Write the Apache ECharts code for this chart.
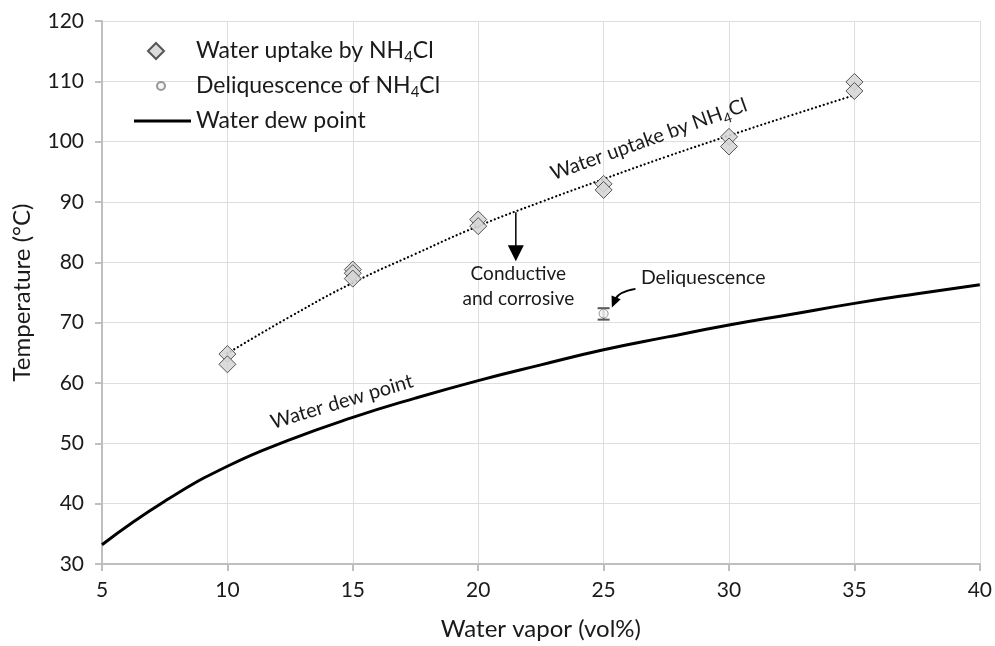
<!DOCTYPE html>
<html>
<head>
<meta charset="utf-8">
<script src="https://cdn.jsdelivr.net/npm/echarts@6/dist/echarts.min.js"></script>
<style>
  html, body { margin: 0; padding: 0; background: #fff; }
  #chart { width: 995px; height: 646px; }
</style>
</head>
<body>
<div id="chart"></div>
<script>
// Water uptake measurements on NH4Cl (vol% water vapor, temperature in °C)
const uptakeVapor = [10, 10, 15, 15, 15, 20, 20, 25, 25, 30, 30, 35, 35];
const uptakeTemp  = [64.8, 63.1, 78.8, 78.2, 77.3, 87.1, 86.0, 93.0, 92.0, 100.8, 99.2, 109.9, 108.4];

// Trend curve through the water uptake points
const trendVapor = [10, 12.5, 15, 17.5, 20, 22.5, 25, 27.5, 30, 32.5, 35];
const trendTemp  = [64.9, 71.0, 76.6, 81.4, 86.0, 90.0, 93.8, 97.5, 101.0, 104.4, 107.7];

// Water dew point curve
const dewVapor = [5, 7.5, 10, 12.5, 15, 17.5, 20, 22.5, 25, 27.5, 30, 32.5, 35, 37.5, 40];
const dewTemp  = [33.2, 40.4, 46.2, 50.6, 54.3, 57.5, 60.4, 63.0, 65.5, 67.6, 69.6, 71.4, 73.2, 74.8, 76.3];

// Deliquescence of NH4Cl with its range
const deliqVapor = [25];
const deliqTemp  = [71.5];
const deliqLow   = [70.5];
const deliqHigh  = [72.4];

const FONT = 'Lato, "Open Sans", sans-serif';
const AXIS_GREY = '#bfbfbf';
const TEXT = '#1a1a1a';

const chart = echarts.init(document.getElementById('chart'), null, { renderer: 'canvas' });

// Subscript: placed at the top of a 26px line, pushed down by padding
const subRich = {
  sub: { fontSize: 15, fontFamily: FONT, color: TEXT, verticalAlign: 'top', lineHeight: 14, padding: [12, 0, 0, 0] }
};

// Legend icons are drawn in a 57x17 box; the leading moves fix the box so shapes keep their size
const ICON_DIAMOND = 'path://M0,0 M57,17 M22,0.5 L30,8.5 L22,16.5 L14,8.5 Z';
const ICON_CIRCLE  = 'path://M0,0 M57,17 M23,8.5 A4,4 0 1 1 31,8.5 A4,4 0 1 1 23,8.5 Z';
const ICON_LINE    = 'path://M0,0 M57,17 M0,7 L57,7 L57,10 L0,10 Z';

const option = {
  animation: false,
  backgroundColor: '#fff',
  grid: { left: 102, right: 14, top: 21, bottom: 79, containLabel: false },
  xAxis: {
    type: 'value', min: 5, max: 40, interval: 5,
    name: 'Water vapor (vol%)', nameLocation: 'middle', nameGap: 53,
    nameTextStyle: { fontFamily: FONT, fontSize: 24, color: TEXT },
    axisLine: { show: true, lineStyle: { color: AXIS_GREY, width: 2 } },
    axisTick: { show: true, length: 7, lineStyle: { color: AXIS_GREY, width: 2 } },
    axisLabel: { fontFamily: FONT, fontSize: 21, color: TEXT, margin: 16 },
    splitLine: { show: true, lineStyle: { color: '#dedede', width: 1 } }
  },
  yAxis: {
    type: 'value', min: 30, max: 120, interval: 10,
    name: 'Temperature (°C)', nameLocation: 'middle', nameGap: 68, nameRotate: 90,
    nameTextStyle: { fontFamily: FONT, fontSize: 24, color: TEXT },
    axisLine: { show: true, lineStyle: { color: AXIS_GREY, width: 2 } },
    axisTick: { show: true, length: 7, lineStyle: { color: AXIS_GREY, width: 2 } },
    axisLabel: { fontFamily: FONT, fontSize: 21, color: TEXT, margin: 18 },
    splitLine: { show: true, lineStyle: { color: '#dedede', width: 1 } }
  },
  legend: {
    orient: 'vertical', left: 133, top: 38, padding: 0,
    itemWidth: 57, itemHeight: 17, itemGap: 8,
    selectedMode: false,
    textStyle: { fontFamily: FONT, fontSize: 23, color: TEXT, lineHeight: 26, rich: subRich },
    formatter: name => name.replace('NH4Cl', 'NH{sub|4}Cl'),
    data: [
      { name: 'Water uptake by NH4Cl', icon: ICON_DIAMOND },
      { name: 'Deliquescence of NH4Cl', icon: ICON_CIRCLE },
      { name: 'Water dew point', icon: ICON_LINE, itemStyle: { color: '#000', borderWidth: 0 } }
    ]
  },
  series: [
    {
      name: 'Water dew point', type: 'line', smooth: true, symbol: 'none',
      data: dewVapor.map((x, i) => [x, dewTemp[i]]),
      lineStyle: { color: '#000', width: 3 }, itemStyle: { color: '#000' }, z: 3
    },
    {
      name: 'Uptake trend', type: 'line', smooth: true, symbol: 'none',
      data: trendVapor.map((x, i) => [x, trendTemp[i]]),
      lineStyle: { color: '#000', width: 2.2, type: [0.1, 4], cap: 'round' }, z: 4
    },
    {
      name: 'Water uptake by NH4Cl', type: 'scatter', symbol: 'diamond', symbolSize: 17,
      data: uptakeVapor.map((x, i) => [x, uptakeTemp[i]]),
      itemStyle: { color: '#d6d6d6', borderColor: '#404040', borderWidth: 1, opacity: 0.88 }, z: 5
    },
    {
      name: 'Deliquescence range', type: 'custom',
      data: deliqVapor.map((x, i) => [x, deliqLow[i], deliqHigh[i]]),
      renderItem: (params, api) => {
        const lo = api.coord([api.value(0), api.value(1)]);
        const hi = api.coord([api.value(0), api.value(2)]);
        const half = 6;
        const st = { stroke: '#595959', lineWidth: 2 };
        return {
          type: 'group',
          children: [
            { type: 'line', shape: { x1: lo[0], y1: lo[1], x2: hi[0], y2: hi[1] }, style: st },
            { type: 'line', shape: { x1: lo[0] - half, y1: lo[1], x2: lo[0] + half, y2: lo[1] }, style: st },
            { type: 'line', shape: { x1: hi[0] - half, y1: hi[1], x2: hi[0] + half, y2: hi[1] }, style: st }
          ]
        };
      },
      z: 5
    },
    {
      name: 'Deliquescence of NH4Cl', type: 'scatter', symbol: 'circle', symbolSize: 9,
      data: deliqVapor.map((x, i) => [x, deliqTemp[i]]),
      itemStyle: { color: '#f2f2f2', borderColor: '#7f7f7f', borderWidth: 1 }, z: 6
    }
  ]
};

chart.setOption(option);

// Annotations anchored to data coordinates
const px = (x, y) => chart.convertToPixel({ gridIndex: 0 }, [x, y]);
const deg = d => d * Math.PI / 180;
const annFont = (size) => size + 'px ' + FONT;

const arrowTop = px(21.5, 88.3);
const arrowTip = px(21.5, 80.2);
const headLen = 16, headHalf = 8;

const curveStart = px(26.27, 75.6);
const curveEnd = px(25.33, 72.5);
const ctrl = [curveStart[0] - 17, curveStart[1] + 3];
const dx = curveEnd[0] - ctrl[0], dy = curveEnd[1] - ctrl[1];
const len = Math.hypot(dx, dy), ux = dx / len, uy = dy / len;
const cHead = 11, cHalf = 5;
const base = [curveEnd[0] - ux * cHead, curveEnd[1] - uy * cHead];

const uptakeLabel = px(26.8, 100.4);
const dewLabel = px(14.56, 56.9);
const condLabel = px(21.6, 78.1);
const corrLabel = px(21.6, 74.0);
const deliqLabel = px(28.97, 77.5);

chart.setOption({
  graphic: [
    { type: 'line', shape: { x1: arrowTop[0], y1: arrowTop[1], x2: arrowTip[0], y2: arrowTip[1] - headLen + 2 },
      style: { stroke: '#000', lineWidth: 1.5 }, z: 10 },
    { type: 'polygon', shape: { points: [
        [arrowTip[0] - headHalf, arrowTip[1] - headLen],
        [arrowTip[0] + headHalf, arrowTip[1] - headLen],
        [arrowTip[0], arrowTip[1]] ] },
      style: { fill: '#000' }, z: 10 },
    { type: 'bezierCurve', shape: { x1: curveStart[0], y1: curveStart[1], cpx1: ctrl[0], cpy1: ctrl[1],
        x2: base[0] + ux * 2, y2: base[1] + uy * 2 },
      style: { stroke: '#000', lineWidth: 2, fill: null }, z: 10 },
    { type: 'polygon', shape: { points: [
        [base[0] - uy * cHalf, base[1] + ux * cHalf],
        [base[0] + uy * cHalf, base[1] - ux * cHalf],
        curveEnd ] },
      style: { fill: '#000' }, z: 10 },
    { type: 'text', x: uptakeLabel[0], y: uptakeLabel[1], rotation: deg(19.7),
      style: { text: 'Water uptake by NH{sub|4}Cl', font: annFont(20), fill: TEXT,
        align: 'center', verticalAlign: 'middle', lineHeight: 24,
        rich: { sub: { fontSize: 14, fontFamily: FONT, fill: TEXT, verticalAlign: 'top', lineHeight: 12, padding: [12, 0, 0, 0] } } },
      z: 10 },
    { type: 'text', x: dewLabel[0], y: dewLabel[1], rotation: deg(16.6),
      style: { text: 'Water dew point', font: annFont(20), fill: TEXT, align: 'center', verticalAlign: 'middle' }, z: 10 },
    { type: 'text', x: condLabel[0], y: condLabel[1],
      style: { text: 'Conductive', font: annFont(19), fill: TEXT, align: 'center', verticalAlign: 'middle' }, z: 10 },
    { type: 'text', x: corrLabel[0], y: corrLabel[1],
      style: { text: 'and corrosive', font: annFont(19), fill: TEXT, align: 'center', verticalAlign: 'middle' }, z: 10 },
    { type: 'text', x: deliqLabel[0], y: deliqLabel[1],
      style: { text: 'Deliquescence', font: annFont(19.5), fill: TEXT, align: 'center', verticalAlign: 'middle' }, z: 10 }
  ]
});
</script>
</body>
</html>
